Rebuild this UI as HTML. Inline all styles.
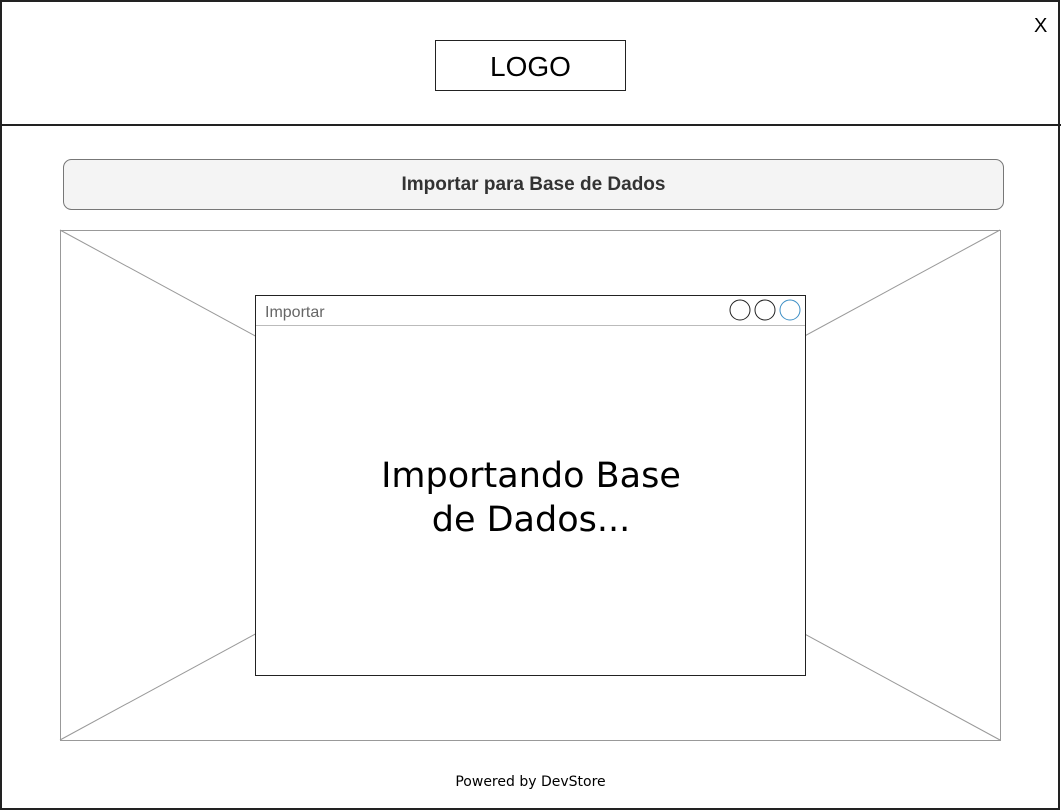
<!DOCTYPE html>
<html><head><meta charset="utf-8"><style>
body{margin:0;width:1061px;height:811px;background:#fff;overflow:hidden;position:relative;font-family:"Liberation Sans",sans-serif}
.a{position:absolute}
</style></head><body>
<svg class="a" style="left:0;top:0" width="1061" height="811">
<rect x="1" y="1" width="1058" height="808" fill="none" stroke="#222" stroke-width="2"/>
<line x1="0" y1="125" x2="1061" y2="125" stroke="#222" stroke-width="2"/>
<rect x="435.5" y="40.5" width="190" height="50" fill="#fff" stroke="#222"/>
<rect x="63.5" y="159.5" width="940" height="50" rx="8" fill="#f4f4f4" stroke="#777"/>
<rect x="60.5" y="230.5" width="940" height="510" fill="#fff" stroke="#999"/>
<line x1="60" y1="230" x2="1000" y2="740" stroke="#999"/>
<line x1="1000" y1="230" x2="60" y2="740" stroke="#999"/>
<rect x="255.5" y="295.5" width="550" height="380" fill="#fff" stroke="#222"/>
<line x1="256" y1="325.5" x2="805" y2="325.5" stroke="#bbb"/>
<circle cx="740" cy="310" r="10" fill="none" stroke="#222"/>
<circle cx="765" cy="310" r="10" fill="none" stroke="#222"/>
<circle cx="790" cy="310" r="10" fill="none" stroke="#3d8fc6"/>
</svg>
<div class="a" style="left:435px;top:51px;width:191px;text-align:center;font-size:28px;color:#000">LOGO</div>
<div class="a" style="left:1034px;top:15px;font-size:20px">X</div>
<div class="a" style="left:63px;top:174px;width:941px;text-align:center;font-size:19px;font-weight:bold;color:#333">Importar para Base de Dados</div>
<div class="a" style="left:265px;top:304px;font-size:16px;color:#666">Importar</div>
<div class="a" style="left:256px;top:454px;width:550px;text-align:center;font-size:35px;line-height:44px;font-family:'DejaVu Sans',sans-serif">Importando Base<br>de Dados...</div>
<div class="a" style="left:0;top:774px;width:1061px;text-align:center;font-size:14px;font-family:'DejaVu Sans',sans-serif">Powered by DevStore</div>
</body></html>
